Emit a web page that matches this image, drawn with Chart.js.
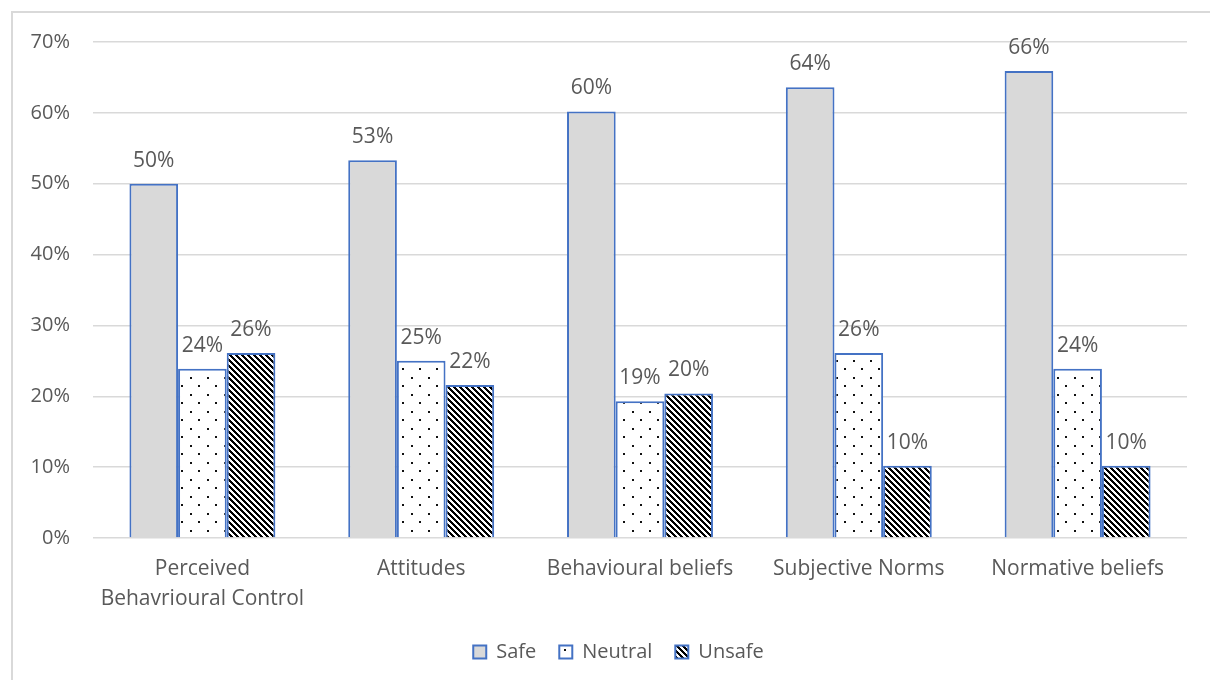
<!DOCTYPE html>
<html>
<head>
<meta charset="utf-8">
<script src="https://cdn.jsdelivr.net/npm/chart.js@4/dist/chart.umd.min.js"></script>
<style>
  html, body { margin: 0; padding: 0; overflow: hidden; background: #fff; }
  #frame { position: absolute; left: 11px; top: 11px; width: 1300px; height: 800px; border: 2px solid #d9d9d9; }
  #wrap { position: absolute; left: 0; top: 0; width: 1210px; height: 672px; }
</style>
</head>
<body>
<div id="frame"></div>
<div id="wrap"><canvas id="chart" width="1210" height="672"></canvas></div>
<script>
// data
const categories = [["Perceived", "Behavrioural Control"], "Attitudes", "Behavioural beliefs", "Subjective Norms", "Normative beliefs"];
const safe = [50.0, 53.3, 60.2, 63.6, 65.9];
const neutral = [23.9, 25.0, 19.3, 26.1, 23.9];
const unsafe = [26.1, 21.6, 20.4, 10.2, 10.2];
const yTicks = [0, 10, 20, 30, 40, 50, 60, 70];

const FONT = "'Open Sans', sans-serif";
const TEXT = "#595959";

// fill patterns like the office ones
const makeDots = () => {
  const c = document.createElement("canvas");
  c.width = 17; c.height = 17;
  const g = c.getContext("2d");
  g.fillStyle = "#fff";
  g.fillRect(0, 0, 17, 17);
  g.fillStyle = "#111";
  g.fillRect(3, 3, 2, 2);
  g.fillRect(11, 11, 2, 2);
  return g.createPattern(c, "repeat");
};

const makeStripes = () => {
  const n = 6;
  const c = document.createElement("canvas");
  c.width = n; c.height = n;
  const g = c.getContext("2d");
  const img = g.createImageData(n, n);
  for (let y = 0; y < n; y++) {
    for (let x = 0; x < n; x++) {
      const i = (y * n + x) * 4;
      const dark = ((x - y) % n + n) % n < 3;
      const v = dark ? 0 : 255;
      img.data[i] = v; img.data[i + 1] = v; img.data[i + 2] = v; img.data[i + 3] = 255;
    }
  }
  g.putImageData(img, 0, 0);
  return g.createPattern(c, "repeat");
};

const valueLabels = {
  id: "valueLabels",
  afterDatasetsDraw(chart) {
    const ctx = chart.ctx;
    ctx.save();
    ctx.font = "21px " + FONT;
    ctx.fillStyle = TEXT;
    ctx.textAlign = "center";
    ctx.textBaseline = "middle";
    chart.data.datasets.forEach((ds, i) => {
      chart.getDatasetMeta(i).data.forEach((bar, j) => {
        ctx.fillText(Math.round(ds.data[j]) + "%", bar.x, bar.y - 23);
      });
    });
    ctx.restore();
  }
};

// legend sits a bit right of the plot centre in the original
const shiftLegend = {
  id: "shiftLegend",
  afterLayout(chart) {
    chart.legend.left += 25;
    chart.legend.right += 25;
  }
};

const ctx = document.getElementById("chart").getContext("2d");
new Chart(ctx, {
  type: "bar",
  data: {
    labels: categories,
    datasets: [
      { label: "Safe", data: safe, backgroundColor: "#d9d9d9" },
      { label: "Neutral", data: neutral, backgroundColor: makeDots() },
      { label: "Unsafe", data: unsafe, backgroundColor: makeStripes() },
    ].map((d) => ({ ...d, borderColor: "#4472c4", borderWidth: 2, categoryPercentage: 0.667, barPercentage: 1 })),
  },
  options: {
    responsive: false,
    animation: false,
    layout: { padding: { top: 42, right: 23, left: 0, bottom: 0 } },
    plugins: {
      legend: {
        position: "bottom",
        labels: { boxWidth: 13, boxHeight: 13, padding: 23, color: TEXT, font: { family: FONT, size: 20 } },
      },
      tooltip: { enabled: false },
    },
    scales: {
      x: {
        grid: { display: false },
        border: { display: false },
        ticks: { color: TEXT, padding: 8, font: { family: FONT, size: 21, lineHeight: 1.43 }, maxRotation: 0 },
        afterFit: (s) => { s.height = 81; },
      },
      y: {
        min: 0,
        max: 70,
        afterBuildTicks: (s) => { s.ticks = yTicks.map((v) => ({ value: v })); },
        grid: { color: "#d9d9d9", lineWidth: 1.5, drawTicks: false },
        border: { display: false },
        ticks: { color: TEXT, padding: 23, font: { family: FONT, size: 20 }, callback: (v) => v + "%" },
        afterFit: (s) => { s.width = 93; },
      },
    },
  },
  plugins: [valueLabels, shiftLegend],
});
</script>
</body>
</html>
